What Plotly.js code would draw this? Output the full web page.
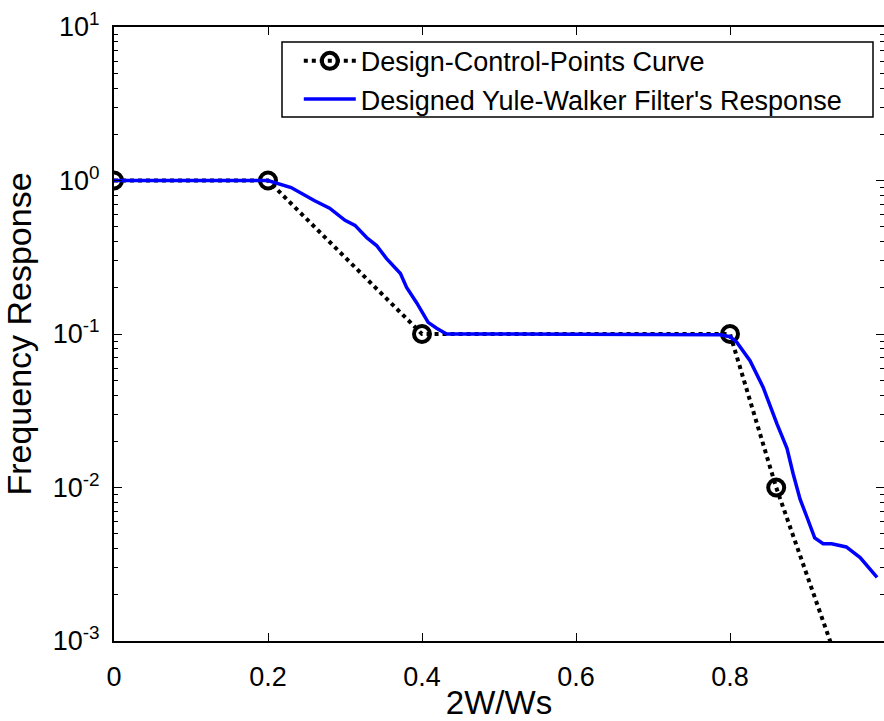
<!DOCTYPE html>
<html>
<head>
<meta charset="utf-8">
<script src="https://cdn.plot.ly/plotly-3.0.1.min.js"></script>
<style>html,body{margin:0;padding:0;background:#fff;}#chart{width:884px;height:721px;}</style>
</head>
<body>
<div id="chart"></div>
<script>
// Design control points
const controlX = [0, 0.2, 0.4, 0.8, 0.86, 1];
const controlY = [1, 1, 0.1, 0.1, 0.01, 0.0001];

// Designed Yule-Walker filter response
const responseX = [0, 0.2, 0.23, 0.26, 0.28, 0.30, 0.313, 0.328, 0.341, 0.354, 0.372, 0.380, 0.393, 0.408, 0.419, 0.432, 0.5, 0.6, 0.7, 0.77, 0.787, 0.80, 0.809, 0.826, 0.843, 0.861, 0.874, 0.882, 0.891, 0.900, 0.910, 0.921, 0.932, 0.951, 0.960, 0.969, 0.991];
const responseY = [1, 1, 0.90, 0.74, 0.66, 0.55, 0.51, 0.425, 0.377, 0.31, 0.248, 0.201, 0.160, 0.119, 0.109, 0.100, 0.100, 0.100, 0.100, 0.100, 0.099, 0.096, 0.088, 0.067, 0.045, 0.026, 0.018, 0.0123, 0.0084, 0.0064, 0.0047, 0.0043, 0.0043, 0.0041, 0.0038, 0.0035, 0.0026];

const xTickVals = [0, 0.2, 0.4, 0.6, 0.8];
const xTickText = ['0', '0.2', '0.4', '0.6', '0.8'];
const yTickVals = [0.001, 0.01, 0.1, 1, 10];
const yTickText = ['10<sup>-3</sup>', '10<sup>-2</sup>', '10<sup>-1</sup>', '10<sup>0</sup>', '10<sup>1</sup>'];

const FONT = 'Liberation Sans, Arial, sans-serif';

const traces = [
  {
    x: controlX, y: controlY, type: 'scatter', mode: 'lines+markers',
    name: 'Design-Control-Points Curve',
    line: {color: '#000000', width: 4, dash: 'dot'},
    marker: {symbol: 'circle-open', size: 16, color: '#000000', line: {width: 4, color: '#000000'}},
    cliponaxis: true
  },
  {
    x: responseX, y: responseY, type: 'scatter', mode: 'lines',
    name: "Designed Yule-Walker Filter's Response",
    line: {color: '#0000ff', width: 3.5}
  }
];

const layout = {
  width: 884, height: 721,
  margin: {l: 114, r: 0, t: 27, b: 80},
  paper_bgcolor: '#ffffff', plot_bgcolor: '#ffffff',
  font: {family: FONT, color: '#000000', size: 27},
  showlegend: true,
  legend: {
    x: 0.240, xanchor: 'left', y: 0.984, yanchor: 'top',
    borderwidth: 0, bgcolor: 'rgba(0,0,0,0)',
    font: {family: FONT, size: 27, color: '#000000'},
    itemwidth: 52, tracegroupgap: 0
  },
  shapes: [
    {type: 'rect', xref: 'paper', yref: 'paper', x0: (282 - 114) / 770, x1: (873 - 114) / 770,
     y0: (641 - 117) / 614, y1: (641 - 42) / 614,
     line: {color: '#000000', width: 1.5}, fillcolor: 'rgba(0,0,0,0)', layer: 'above'}
  ],
  xaxis: {
    range: [0, 1], tickvals: xTickVals, ticktext: xTickText,
    ticks: 'inside', ticklen: 8, tickwidth: 1, tickcolor: '#000',
    showline: true, linecolor: '#000', linewidth: 2, mirror: 'allticks',
    showgrid: false, zeroline: false,
    tickfont: {family: FONT, size: 27},
    ticklabelstandoff: 11,
    title: {text: '2W/Ws', font: {family: FONT, size: 33}, standoff: 19}
  },
  yaxis: {
    type: 'log', range: [-3, 1], tickvals: yTickVals, ticktext: yTickText,
    ticks: 'inside', ticklen: 8, tickwidth: 1, tickcolor: '#000',
    minor: {ticks: 'inside', ticklen: 4, dtick: 'D1', tickcolor: '#000', tickwidth: 1, showgrid: false},
    showline: true, linecolor: '#000', linewidth: 2, mirror: 'allticks',
    showgrid: false, zeroline: false,
    tickfont: {family: FONT, size: 27},
    ticklabelstandoff: 7,
    title: {text: 'Frequency Response', font: {family: FONT, size: 34}, standoff: 14}
  }
};

Plotly.newPlot('chart', traces, layout, {displayModeBar: false, staticPlot: true});
</script>
</body>
</html>
